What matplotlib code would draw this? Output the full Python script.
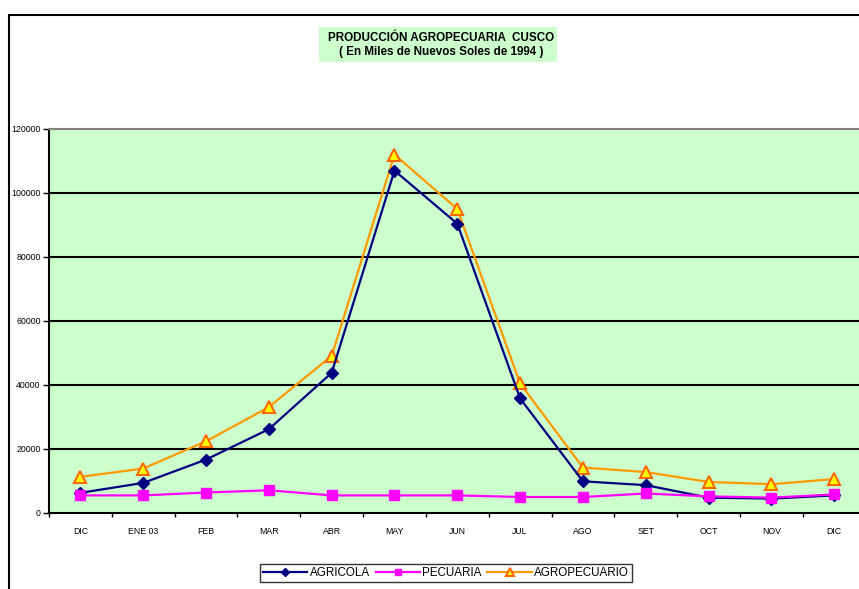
import numpy as np
import matplotlib.pyplot as plt
from matplotlib.patches import Rectangle

plt.rcParams['font.family'] = ['Liberation Sans', 'DejaVu Sans']

# Datos (miles de nuevos soles de 1994)
meses = ['DIC', 'ENE 03', 'FEB', 'MAR', 'ABR', 'MAY', 'JUN', 'JUL',
         'AGO', 'SET', 'OCT', 'NOV', 'DIC']
agricola = [6300, 9400, 16700, 26200, 43800, 107000, 90400, 35800,
            9900, 8700, 4800, 4500, 5500]
pecuaria = [5500, 5500, 6400, 7100, 5500, 5500, 5500, 5000,
            5000, 6100, 5200, 4800, 5800]
agropecuario = [11300, 13900, 22400, 33100, 49100, 112000, 95000, 40500,
                14200, 12800, 9700, 9000, 10600]
y_ticks = [0, 20000, 40000, 60000, 80000, 100000, 120000]

W, H = 859, 589
fig = plt.figure(figsize=(W / 100, H / 100), dpi=100)

# Marco exterior del grafico
fig.patches.append(Rectangle((9 / W, -0.05), 1.2, 1 - 15 / H + 0.05,
                             transform=fig.transFigure, fill=False,
                             edgecolor='black', linewidth=1.5, zorder=0))

# Caja del titulo
fig.patches.append(Rectangle((319 / W, 1 - 62 / H), 238 / W, 35 / H,
                             transform=fig.transFigure, facecolor='#CCFFCC',
                             edgecolor='none', zorder=1))
fig.text(441 / W, 1 - 38 / H, 'PRODUCCIÓN AGROPECUARIA  CUSCO',
         ha='center', va='center', fontsize=8.4, fontweight='bold')
fig.text(441 / W, 1 - 52 / H, '( En Miles de Nuevos Soles de 1994 )',
         ha='center', va='center', fontsize=8.4, fontweight='bold')

ax = fig.add_axes([49 / W, (H - 513) / H, (865.6 - 49) / W, (513 - 129) / H])
ax.set_facecolor('#CCFFCC')

x = np.arange(len(meses))
ax.plot(x, agricola, color='#000080', linewidth=1.6, marker='D',
        markersize=6.5, markerfacecolor='#000080', markeredgecolor='#000080',
        label='AGRICOLA', zorder=4)
ax.plot(x, pecuaria, color='#FF00FF', linewidth=1.6, marker='s',
        markersize=7.5, markerfacecolor='#FF00FF', markeredgecolor='#FF00FF',
        label='PECUARIA', zorder=5)
ax.plot(x, agropecuario, color='#FF9900', linewidth=1.6, marker='^',
        markersize=9, markerfacecolor='#FFFF00', markeredgecolor='#FF6600',
        markeredgewidth=1.5, label='AGROPECUARIO', zorder=3)

ax.set_xlim(-0.5, len(meses) - 0.5)
ax.set_ylim(0, 120000)
ax.set_yticks(y_ticks)
ax.set_yticklabels([str(v) for v in y_ticks], fontsize=6.3)
ax.set_xticks(x)
ax.set_xticklabels(meses, fontsize=6.3)
ax.set_xticks(np.arange(-0.5, len(meses), 1), minor=True)
ax.tick_params(axis='x', which='major', length=0, pad=10)
ax.tick_params(axis='x', which='minor', length=3, width=1, direction='out')
ax.tick_params(axis='y', length=4, width=1, direction='out', pad=2)

for v in y_ticks[1:-1]:
    ax.axhline(v, color='black', linewidth=1.5, zorder=1)

ax.spines['top'].set_color('#808080')
ax.spines['top'].set_linewidth(1.5)
ax.spines['right'].set_visible(False)
ax.spines['left'].set_linewidth(1.5)
ax.spines['bottom'].set_linewidth(1.5)

leg = fig.legend(loc='center', bbox_to_anchor=(446 / W, 1 - 573 / H), ncol=3,
                 fontsize=8.4, frameon=True, fancybox=False, handlelength=3.8,
                 handletextpad=0.2, columnspacing=0.5, borderpad=0.25,
                 markerscale=0.6)
leg.get_frame().set_edgecolor('black')
leg.get_frame().set_linewidth(1.0)

fig.savefig('out.png', dpi=100)
